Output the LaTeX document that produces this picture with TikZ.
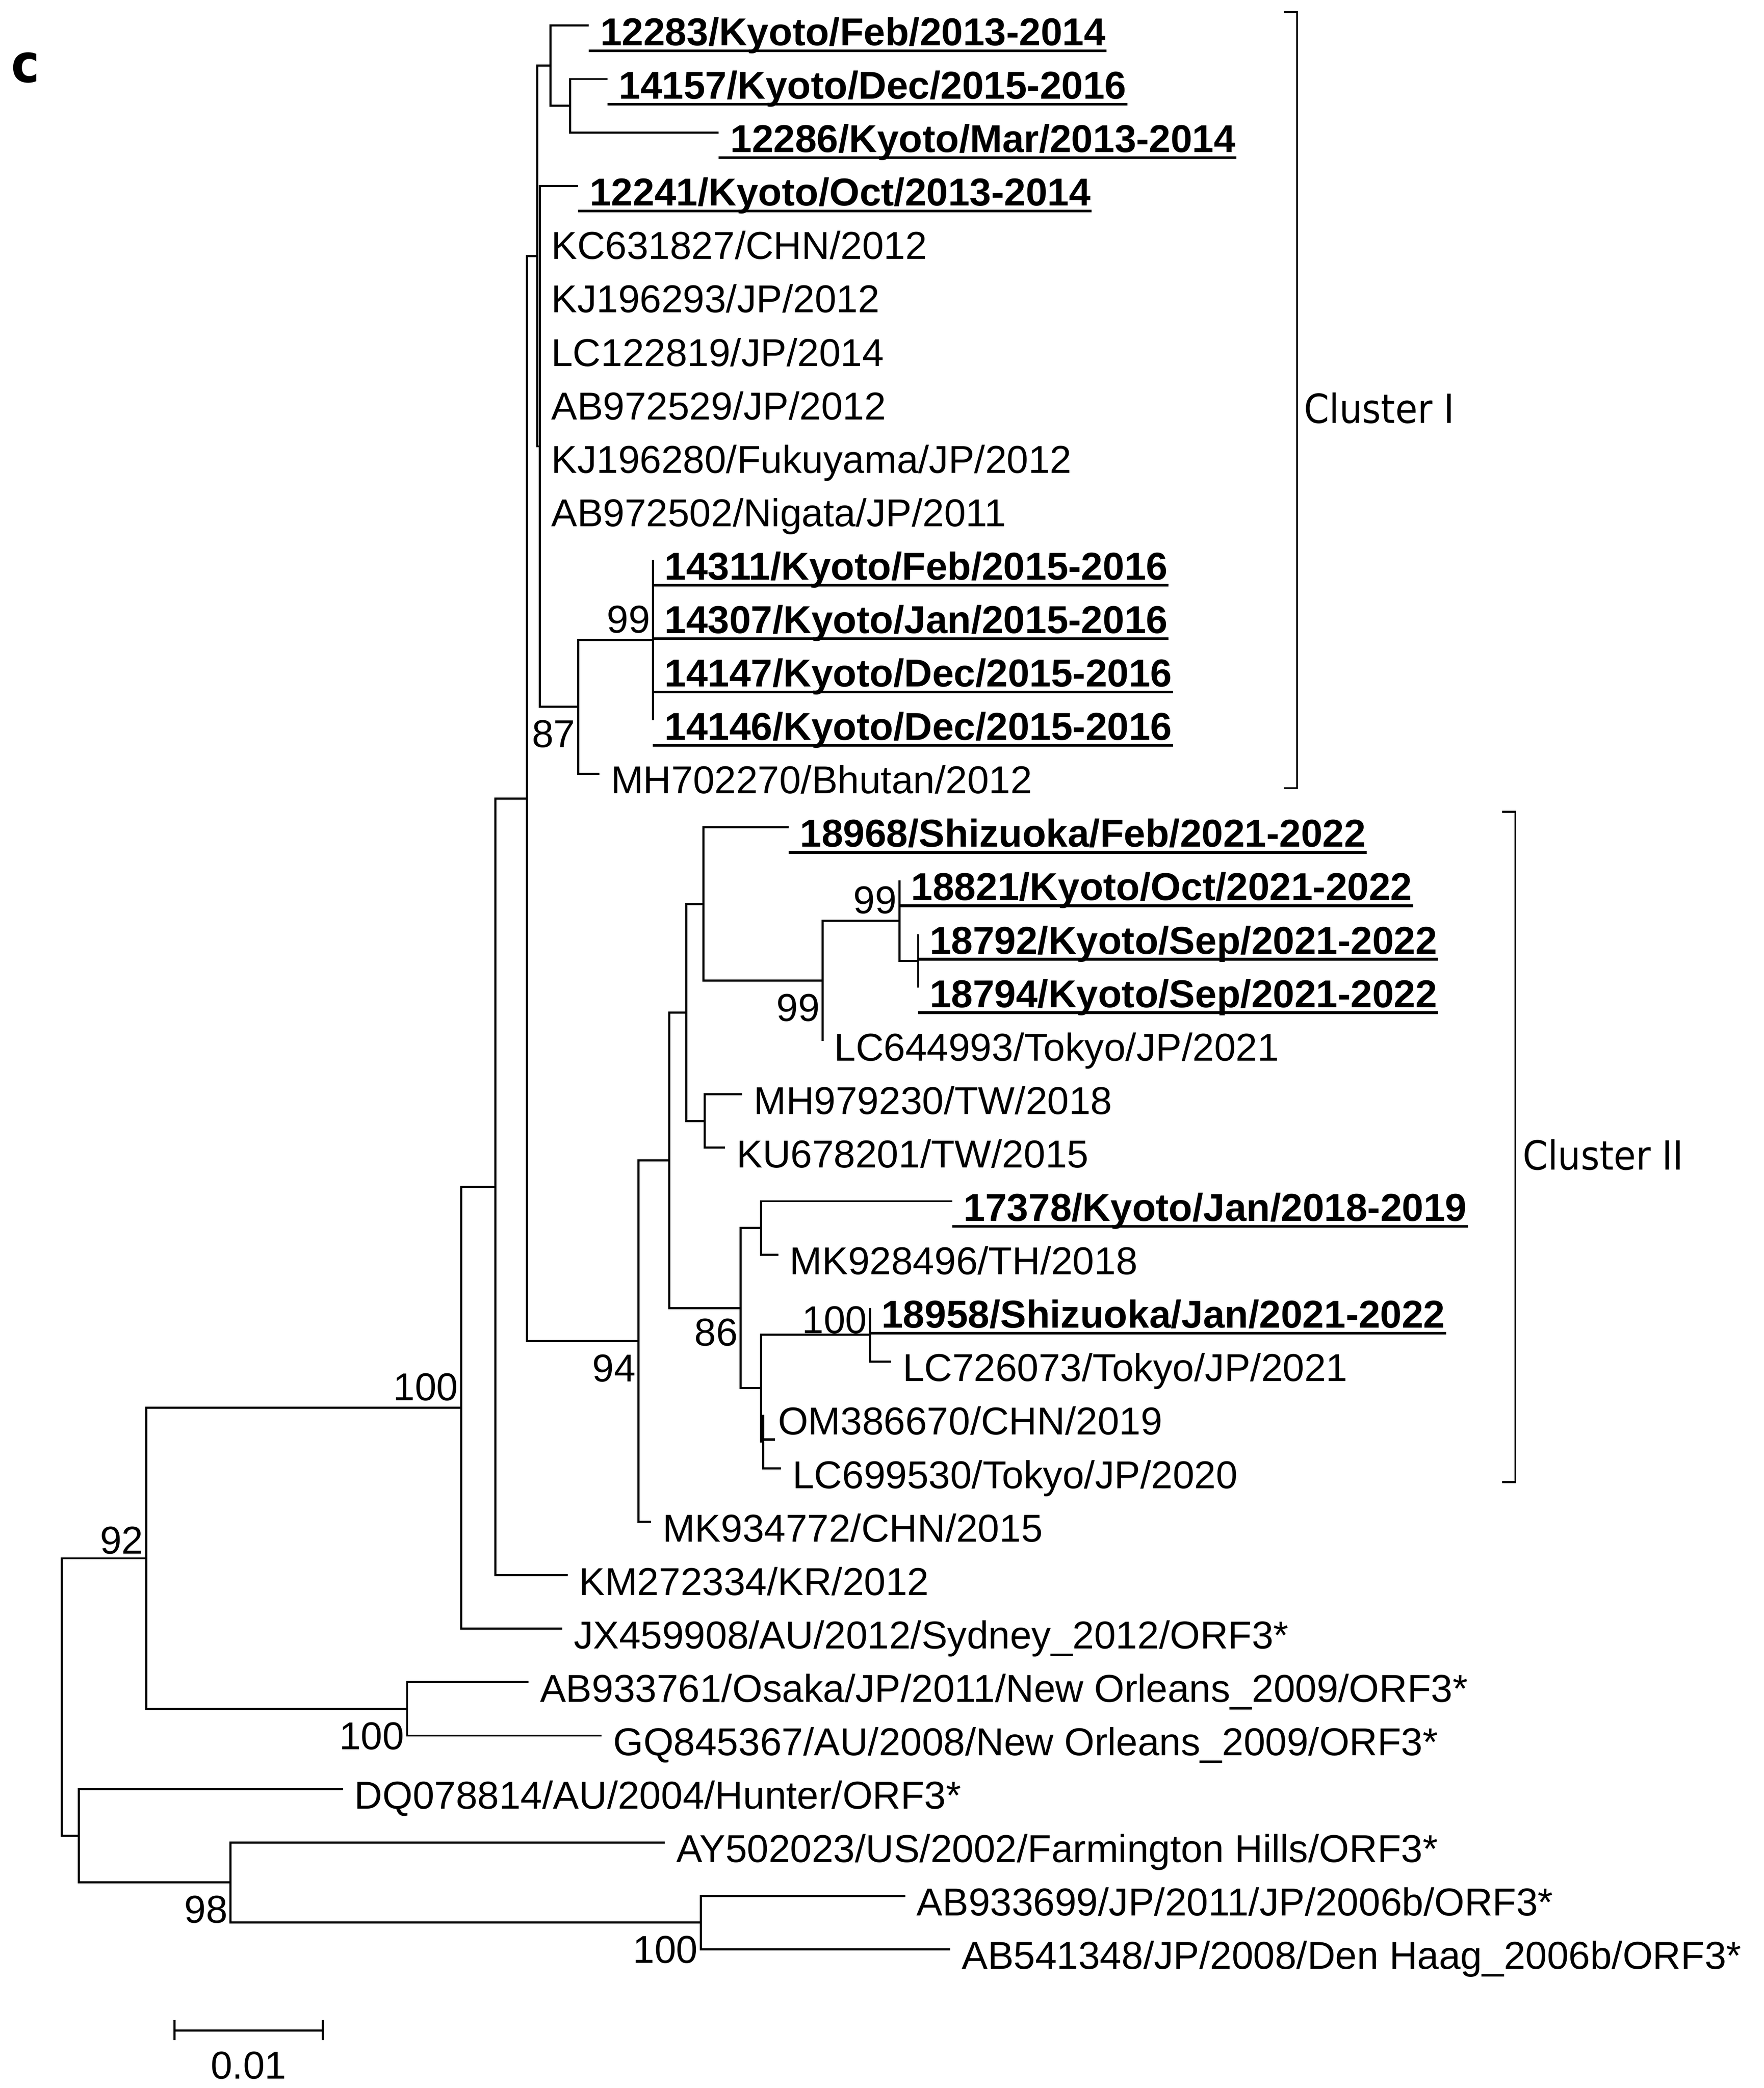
\documentclass[tikz,border=0pt]{standalone}
\usepackage{fontspec}
\setmainfont{Liberation Sans}
\newfontfamily\clusterfont{DejaVu Sans}[FakeStretch=0.9]
\usetikzlibrary{calc, positioning}
\newcommand{\treesize}{\fontsize{8.33pt}{10pt}\selectfont}
\tikzset{
	treeline/.style = {line width = 0.45pt},
	uline/.style = {line width = 0.6pt},
	bracket/.style = {line width = 0.4pt},
	taxon/.style = {anchor = base west, inner sep = 0pt, font = \treesize},
	kyototaxon/.style = {taxon, font = \treesize\bfseries},
	boot/.style = {anchor = base east, inner sep = 0pt, font = \treesize},
	bsup/.style = {boot, xshift = -0.015cm, yshift = 0.055cm},
	bsdn/.style = {boot, xshift = -0.015cm, yshift = -0.305cm},
	clusterlab/.style = {anchor = base west, inner sep = 0pt, font = \clusterfont\fontsize{8.6pt}{10pt}\selectfont}
}

\begin{document}
\begin{tikzpicture}[x = 0.01cm, y = -0.01cm]
		\useasboundingbox (0, 0) rectangle (1330, 1574.7);
		\node [anchor = base west, inner sep = 0pt, font = \clusterfont\bfseries\fontsize{11.4pt}{13pt}\selectfont] (panel) at (7.7, 62.1) {c};

		% plain taxa: row/tip/label
		\foreach \k/\tx/\lab in {5/407/{KC631827/CHN/2012}, 6/407/{KJ196293/JP/2012}, 7/407/{LC122819/JP/2014},
				8/407/{AB972529/JP/2012}, 9/407/{KJ196280/Fukuyama/JP/2012}, 10/407/{AB972502/Nigata/JP/2011},
				15/452/{MH702270/Bhutan/2012}, 20/620.3/{LC644993/Tokyo/JP/2021}, 21/559.7/{MH979230/TW/2018},
				22/546.8/{KU678201/TW/2015}, 24/586.9/{MK928496/TH/2018}, 26/672/{LC726073/Tokyo/JP/2021},
				28/589/{LC699530/Tokyo/JP/2020}, 29/491/{MK934772/CHN/2015}, 30/428/{KM272334/KR/2012},
				31/424/{JX459908/AU/2012/Sydney\_2012/ORF3*}, 32/398.6/{AB933761/Osaka/JP/2011/New Orleans\_2009/ORF3*},
				33/453.7/{GQ845367/AU/2008/New Orleans\_2009/ORF3*}, 34/258.6/{DQ078814/AU/2004/Hunter/ORF3*},
				35/501.4/{AY502023/US/2002/Farmington Hills/ORF3*}, 36/682.6/{AB933699/JP/2011/JP/2006b/ORF3*},
				37/716.6/{AB541348/JP/2008/Den Haag\_2006b/ORF3*}}{
			\coordinate (t\k) at (\tx, {19.3 + 40.3*(\k - 1)});
			\node [taxon] (l\k) at ($(t\k) + (8, 15)$) {\lab};
		}
		\coordinate (t27) at (575.5, 1067.1);
		\node [taxon] (l27) at ($(t27) + (10.5, 15)$) {OM386670/CHN/2019};
		\draw [uline] ($(t27) + (0.8, 18.5)$) -- ++(8.1, 0);

		% study strains, bold and underlined
		\foreach \k/\tx/\lab in {1/444/{12283/Kyoto/Feb/2013-2014}, 2/458/{14157/Kyoto/Dec/2015-2016},
				3/542/{12286/Kyoto/Mar/2013-2014}, 4/436/{12241/Kyoto/Oct/2013-2014},
				11/492.4/{14311/Kyoto/Feb/2015-2016}, 12/492.4/{14307/Kyoto/Jan/2015-2016},
				13/492.4/{14147/Kyoto/Dec/2015-2016}, 14/492.4/{14146/Kyoto/Dec/2015-2016},
				16/594.6/{18968/Shizuoka/Feb/2021-2022}, 17/678.4/{18821/Kyoto/Oct/2021-2022},
				18/692.3/{18792/Kyoto/Sep/2021-2022}, 19/692.3/{18794/Kyoto/Sep/2021-2022},
				23/718/{17378/Kyoto/Jan/2018-2019}, 25/656/{18958/Shizuoka/Jan/2021-2022}}{
			\coordinate (t\k) at (\tx, {19.3 + 40.3*(\k - 1)});
			\node [kyototaxon] (l\k) at ($(t\k) + (8, 15)$) {\lab};
			\draw [uline] ($(t\k) + (0, 19)$) -- ($(l\k.base east) + (0, 4)$);
		}

		% inner nodes
		\coordinate (B) at (430, 79.75);
		\coordinate (A) at (415, 49.5);
		\coordinate (N99a) at (492.4, 482.75);
		\coordinate (N87) at (436, 533.1);
		\coordinate (P) at (407, 336.65);
		\coordinate (Q) at (405, 193.1);
		\coordinate (C8) at (692.3, 724.55);
		\coordinate (C7) at (678.4, 694.3);
		\coordinate (C6) at (620.3, 739.65);
		\coordinate (C4) at (530.4, 681.7);
		\coordinate (C5) at (531.4, 845.45);
		\coordinate (C2) at (517.5, 763.6);
		\coordinate (C9) at (574, 926.05);
		\coordinate (C11) at (656, 1006.65);
		\coordinate (C12) at (575.5, 1087.25);
		\coordinate (C10) at (574, 1046.95);
		\coordinate (C3) at (558.5, 986.5);
		\coordinate (C1) at (504.7, 875.05);
		\coordinate (N94) at (481.5, 1011.4);
		\coordinate (N397) at (397.3, 602.25);
		\coordinate (N373) at (373.4, 895.1);
		\coordinate (N348) at (347.7, 1061.7);
		\coordinate (NO) at (307, 1288.75);
		\coordinate (N110) at (110.2, 1175.2);
		\coordinate (D100) at (528.4, 1449.95);
		\coordinate (D98) at (173.8, 1419.7);
		\coordinate (N59) at (59.4, 1384.45);
		\coordinate (Root) at (46.6, 1279.8);

		\foreach \p/\c in {A/t1, A/B, B/t2, B/t3, Q/A, Q/P, P/t4, P/t5, P/t6, P/t7, P/t8, P/t9, P/t10, P/N87,
				N87/N99a, N87/t15, N99a/t11, N99a/t12, N99a/t13, N99a/t14,
				N397/Q, N397/N94, N94/C1, N94/t29, C1/C2, C1/C3, C2/C4, C2/C5, C4/t16, C4/C6,
				C6/C7, C6/t20, C7/t17, C7/C8, C8/t18, C8/t19, C5/t21, C5/t22, C3/C9, C3/C10,
				C9/t23, C9/t24, C10/C11, C10/C12, C11/t25, C11/t26, C12/t27, C12/t28,
				N373/N397, N373/t30, N348/N373, N348/t31, N110/N348, N110/NO, NO/t32, NO/t33,
				Root/N110, Root/N59, N59/t34, N59/D98, D98/t35, D98/D100, D100/t36, D100/t37}
			\draw [treeline] (\p) |- (\c);

		% bootstrap values
		\node [bsup] (b99a) at (N99a) {99};
		\node [bsdn] (b87) at (N87) {87};
		\node [bsup] (b99c) at (C7) {99};
		\node [bsdn] (b99b) at (C6) {99};
		\node [bsup, yshift = -0.045cm] (b100a) at (C11) {100};
		\node [bsdn, yshift = 0.02cm] (b86) at (C3) {86};
		\node [bsdn] (b94) at (N94) {94};
		\node [bsup] (b100b) at (N348) {100};
		\node [bsup, yshift = -0.02cm] (b92) at (N110) {92};
		\node [bsdn] (b100c) at (NO) {100};
		\node [bsdn] (b98) at (D98) {98};
		\node [bsdn] (b100d) at (D100) {100};

		% clusters
		\coordinate (k1top) at (978, 9.2);
		\coordinate (k1bot) at (978, 594.4);
		\draw [bracket] ($(k1top) + (-10, 0)$) -- (k1top) -- (k1bot) -- ($(k1bot) + (-10, 0)$);
		\node [clusterlab] (k1) at ($(k1top)!0.5!(k1bot) + (4.8, 17.3)$) {Cluster I};
		\coordinate (k2top) at (1142.7, 612.2);
		\coordinate (k2bot) at (1142.7, 1117.7);
		\draw [bracket] ($(k2top) + (-10, 0)$) -- (k2top) -- (k2bot) -- ($(k2bot) + (-10, 0)$);
		\node [clusterlab] (k2) at ($(k2top)!0.5!(k2bot) + (4.8, 17.3)$) {Cluster II};

		% scale bar
		\coordinate (s0) at (131.5, 1531.3);
		\coordinate (s1) at (243.4, 1531.3);
		\draw [treeline] (s0) -- (s1);
		\draw [treeline] ($(s0) + (0, -8)$) -- ($(s0) + (0, 7.4)$);
		\draw [treeline] ($(s1) + (0, -8)$) -- ($(s1) + (0, 7.4)$);
		\node [anchor = base, inner sep = 0pt, font = \treesize] (sl) at ($(s0)!0.5!(s1) + (0, 36.6)$) {0.01};
	\end{tikzpicture}
\end{document}
